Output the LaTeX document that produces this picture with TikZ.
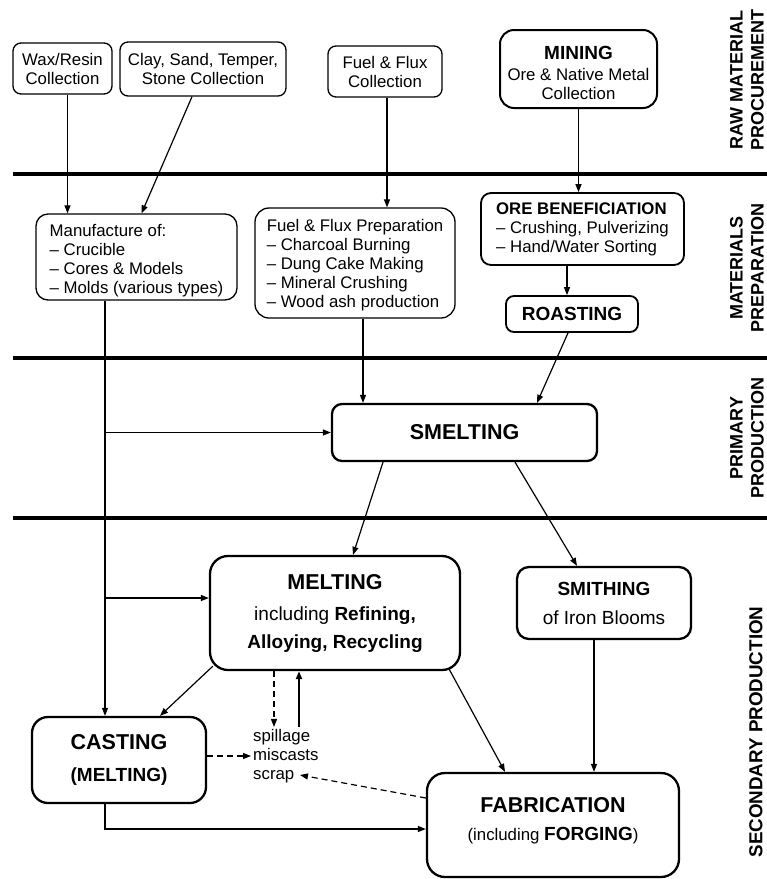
\documentclass[tikz,border=0pt]{standalone}
\usepackage{fontspec}
\setmainfont{Liberation Sans}
\usetikzlibrary{arrows.meta}
\newcommand{\fs}[2]{\fontsize{#1}{#2}\selectfont}
\begin{document}
\begin{tikzpicture}[x=1pt,y=-1pt,
  box/.style={draw, line width=1.3pt, rounded corners=8pt, inner sep=0pt, align=center, font=\fs{16.8}{19}},
  lbox/.style={draw, line width=1.3pt, rounded corners=12pt, inner sep=0pt, align=left, font=\fs{16.8}{19}},
  bbox/.style={draw, line width=2.3pt, rounded corners=14pt, inner sep=0pt, align=center},
  arr/.style={line width=1.2pt, -{Triangle[length=8pt,width=6pt]}},
  darr/.style={arr, dash pattern=on 6pt off 4pt},
  sepline/.style={line width=3.5pt},
  side/.style={rotate=90, align=center, font=\fs{18}{21}\bfseries}
]
\useasboundingbox (0,0) rectangle (767,879);

% separators
\draw[sepline] (13,174) -- (767,174);
\draw[sepline] (13,358) -- (767,358);
\draw[sepline] (13,518) -- (767,518);

% side labels
\node[side] (lraw) at (747,80) {RAW MATERIAL\\PROCUREMENT};
\node[side] (lmat) at (747,268) {MATERIALS\\PREPARATION};
\node[side] (lpri) at (747,438) {PRIMARY\\PRODUCTION};
\node[side, font=\fs{18.8}{21}\bfseries] (lsec) at (756,732) {SECONDARY PRODUCTION};

% raw material procurement
\node[box, minimum width=99, minimum height=51] (wax) at (62.5,68.5) {Wax/Resin\\Collection};
\node[box, minimum width=166, minimum height=54] (clay) at (203,69) {Clay, Sand, Temper,\\Stone Collection};
\node[box, minimum width=114, minimum height=51] (fuelc) at (385,71.5) {Fuel \& Flux\\Collection};
\node[bbox, line width=2pt, font=\fs{16.8}{19}, minimum width=157, minimum height=78] (mining) at (578.5,69)
  {{\fs{19}{22}\bfseries\rule{0pt}{21pt}MINING}\\[2pt]Ore \& Native Metal\\Collection};

% materials preparation
\node[lbox, minimum width=201, minimum height=86] (manuf) at (136.5,257)
  {\rule{0pt}{19pt}Manufacture of:\\– Crucible\\– Cores \& Models\\– Molds (various types)};
\node[lbox, rounded corners=14pt, minimum width=200, minimum height=110] (fuelp) at (355,263)
  {\rule{0pt}{17pt}Fuel \& Flux Preparation\\– Charcoal Burning\\– Dung Cake Making\\– Mineral Crushing\\– Wood ash production};
\node[lbox, line width=1.8pt, rounded corners=10pt, minimum width=203, minimum height=72] (ore) at (582.5,229)
  {\textbf{ORE BENEFICIATION}\\– Crushing, Pulverizing\\– Hand/Water Sorting};
\node[box, line width=1.8pt, font=\fs{19}{22}\bfseries, minimum width=132, minimum height=36] (roast) at (572,314) {ROASTING};

% primary production
\node[bbox, rounded corners=10pt, font=\fs{21.5}{25}\bfseries, minimum width=265, minimum height=57] (smelt) at (464.5,432.5) {SMELTING};

% secondary production
\node[bbox, rounded corners=18pt, font=\fs{19}{28}, minimum width=250, minimum height=114] (melt) at (335,613)
  {{\fs{21.5}{28}\bfseries MELTING}\\[3pt]including \textbf{Refining,}\\\textbf{Alloying, Recycling}};
\node[bbox, rounded corners=12pt, font=\fs{19}{29}, minimum width=174, minimum height=72] (smith) at (604,603)
  {\textbf{SMITHING}\\of Iron Blooms};
\node[bbox, rounded corners=16pt, font=\fs{19}{32}\bfseries, minimum width=174, minimum height=86] (cast) at (119,760)
  {{\fs{21.5}{32}\selectfont CASTING}\\(MELTING)};
\node[inner sep=2pt, anchor=west, align=left, font=\fs{16.8}{19}] (spill) at (251,756) {spillage\\miscasts\\scrap};
\node[bbox, rounded corners=18pt, font=\fs{16.8}{30}, minimum width=252, minimum height=104] (fab) at (553,825)
  {{\fs{21.5}{30}\bfseries FABRICATION}\\[-2pt](including {\fs{19}{30}\bfseries FORGING})\rule[-11.5pt]{0pt}{1pt}};

% connectors
\draw[arr] ([xshift=5pt]wax.south) -- ([xshift=5pt]wax.south |- manuf.north);
\draw[arr] ([xshift=-11pt]clay.south) -- ([xshift=5pt]manuf.north);
\draw[arr] ([xshift=2pt]fuelc.south) -- ([xshift=2pt]fuelc.south |- fuelp.north);
\draw[arr] (mining.south) -- (mining.south |- ore.north);
\draw[arr] ([xshift=-5pt]roast.north |- ore.south) -- ([xshift=-5pt]roast.north);
\draw[arr] ([xshift=-4pt]roast.south) -- ([xshift=72.5pt]smelt.north);
\draw[arr] ([xshift=8pt]fuelp.south) -- ([xshift=8pt]fuelp.south |- smelt.north);

\coordinate (trunk) at ([xshift=-31.5pt]manuf.south);
\draw[arr] (trunk) -- (trunk |- cast.north);
\draw[arr] (trunk |- smelt.west) -- (smelt.west);
\draw[arr] ([yshift=15pt]melt.west -| trunk) -- ([yshift=15pt]melt.west);

\draw[arr] ([xshift=-81.5pt]smelt.south) -- ([xshift=18pt]melt.north);
\draw[arr] ([xshift=50.5pt]smelt.south) -- ([xshift=-27pt]smith.north);

\draw[arr] ([xshift=4pt,yshift=5pt]melt.south west) -- ([xshift=41pt]cast.north);
\draw[darr] ([xshift=-61pt]melt.south) -- ([xshift=-61pt]melt.south |- spill.north);
\draw[arr, line width=2.3pt] ([xshift=-36pt]melt.south |- spill.north) -- ([xshift=-36pt]melt.south);
\draw[arr] ([xshift=-12pt,yshift=2pt]melt.south east) -- ([xshift=-48pt]fab.north);
\draw[arr] ([xshift=-10pt]smith.south) -- ([xshift=-10pt]smith.south |- fab.north);

\draw[darr] ([yshift=4pt]cast.east) -- ([yshift=4pt]cast.east -| spill.west);
\draw[darr] ([yshift=27pt]fab.west) -- ([xshift=49pt,yshift=-19pt]spill.west);
\draw[arr] ([xshift=-14pt]cast.south) |- ([yshift=-4pt]fab.west);
\end{tikzpicture}
\end{document}
